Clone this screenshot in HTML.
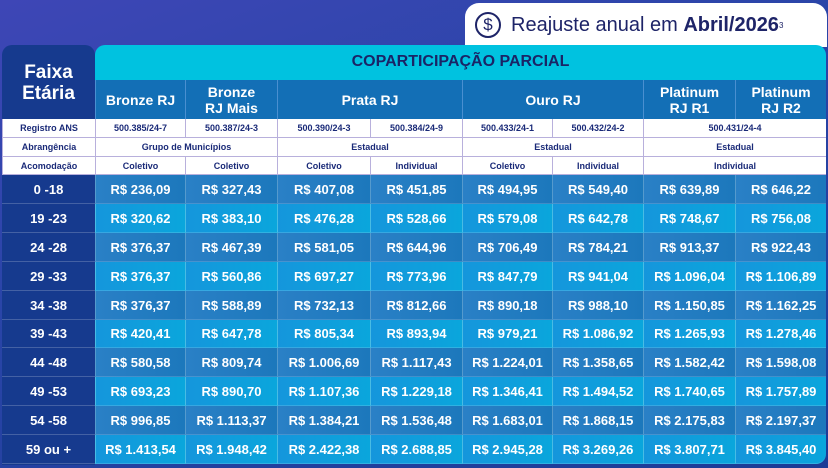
<!DOCTYPE html>
<html><head><meta charset="utf-8"><style>
*{margin:0;padding:0;box-sizing:border-box}
body{width:828px;height:468px;overflow:hidden;position:relative;font-family:"Liberation Sans",sans-serif;background:linear-gradient(160deg,#3e46b6 0%,#2a45a8 40%,#1c3b96 100%)}
.abs{position:absolute}
.pill{left:465px;top:3px;width:362px;height:44px;background:#fff;border-radius:14px 14px 0 0;color:#1e2468;font-size:20px;display:flex;align-items:center;padding-left:10px}
.ic{width:26px;height:26px;border:2px solid #1e2468;border-radius:50%;display:flex;align-items:center;justify-content:center;font-size:17px;margin-right:10px}
.left{left:2px;top:45px;width:93px;height:420px;background:#163a8e;border-radius:10px 10px 0 0}
.teal{left:95px;top:45px;width:731px;height:35px;background:#00c2e0;border-radius:10px 10px 0 0;color:#1a2466;font-weight:bold;font-size:16px;text-align:center;line-height:33px}
.cell{position:absolute;display:flex;align-items:center;justify-content:center;text-align:center;color:#fff;font-weight:bold}
.hd{background:#136fb6;font-size:14px;line-height:16px;border-left:1px solid #4a8fd0}
.w{background:#fff;color:#1a2a78;font-size:9px;font-weight:bold;border-left:1px solid #b8b0dc;border-bottom:1px solid #b8b0dc}
.d{font-size:13px;border-left:1px solid rgba(255,255,255,.25);border-bottom:1px solid rgba(255,255,255,.15)}
.age{font-size:13px;color:#fff;border-bottom:1px solid rgba(255,255,255,.2)}
</style></head><body>
<div class="abs pill"><div class="ic">$</div>Reajuste anual em&nbsp;<b>Abril/2026</b><sup style="font-size:8px">3</sup></div>
<div class="abs left"></div>
<div class="cell" style="left:2px;top:52px;width:93px;height:62px;font-size:19px;line-height:21px">Faixa<br>Etária</div>
<div class="abs teal">COPARTICIPAÇÃO PARCIAL</div>
<div id="t"></div>
<script>
const X=[95,185,277,370,462,552,643,735,826];
let h='';
function c(cls,x1,x2,y,hgt,txt,st){h+=`<div class="cell ${cls}" style="left:${x1}px;top:${y}px;width:${x2-x1}px;height:${hgt}px;${st||''}">${txt}</div>`}
c('hd',95,185,80,39,'Bronze RJ');c('hd',185,277,80,39,'Bronze<br>RJ Mais');c('hd',277,462,80,39,'Prata RJ');c('hd',462,643,80,39,'Ouro RJ');c('hd',643,735,80,39,'Platinum<br>RJ R1');c('hd',735,826,80,39,'Platinum<br>RJ R2');
c('w',2,95,119,19,'Registro ANS');c('w',2,95,138,19,'Abrangência');c('w',2,95,157,18,'Acomodação');
const reg=['500.385/24-7','500.387/24-3','500.390/24-3','500.384/24-9','500.433/24-1','500.432/24-2'];
for(let i=0;i<6;i++)c('w',X[i],X[i+1],119,19,reg[i]);c('w',643,826,119,19,'500.431/24-4');
c('w',95,277,138,19,'Grupo de Municípios');c('w',277,462,138,19,'Estadual');c('w',462,643,138,19,'Estadual');c('w',643,826,138,19,'Estadual');
const ac=['Coletivo','Coletivo','Coletivo','Individual','Coletivo','Individual'];
for(let i=0;i<6;i++)c('w',X[i],X[i+1],157,18,ac[i]);c('w',643,826,157,18,'Individual');
const ages=['0 -18','19 -23','24 -28','29 -33','34 -38','39 -43','44 -48','49 -53','54 -58','59 ou +'];
const D=[['236,09','327,43','407,08','451,85','494,95','549,40','639,89','646,22'],
['320,62','383,10','476,28','528,66','579,08','642,78','748,67','756,08'],
['376,37','467,39','581,05','644,96','706,49','784,21','913,37','922,43'],
['376,37','560,86','697,27','773,96','847,79','941,04','1.096,04','1.106,89'],
['376,37','588,89','732,13','812,66','890,18','988,10','1.150,85','1.162,25'],
['420,41','647,78','805,34','893,94','979,21','1.086,92','1.265,93','1.278,46'],
['580,58','809,74','1.006,69','1.117,43','1.224,01','1.358,65','1.582,42','1.598,08'],
['693,23','890,70','1.107,36','1.229,18','1.346,41','1.494,52','1.740,65','1.757,89'],
['996,85','1.113,37','1.384,21','1.536,48','1.683,01','1.868,15','2.175,83','2.197,37'],
['1.413,54','1.948,42','2.422,38','2.688,85','2.945,28','3.269,26','3.807,71','3.845,40']];
for(let r=0;r<10;r++){const y=Math.round(175+r*28.9),y2=Math.round(175+(r+1)*28.9);
c('age',2,95,y,y2-y,ages[r]);
const bg=r%2==0?'linear-gradient(90deg,#2a80c6,#1c78bc)':'linear-gradient(90deg,#1596dc,#0aa6dc)';
for(let i=0;i<8;i++)c('d',X[i],X[i+1],y,y2-y,'R$ '+D[r][i],'background:'+bg+(r==9&&i==7?';border-radius:0 0 10px 0':''));}
document.getElementById('t').innerHTML=h;
</script>
</body></html>
